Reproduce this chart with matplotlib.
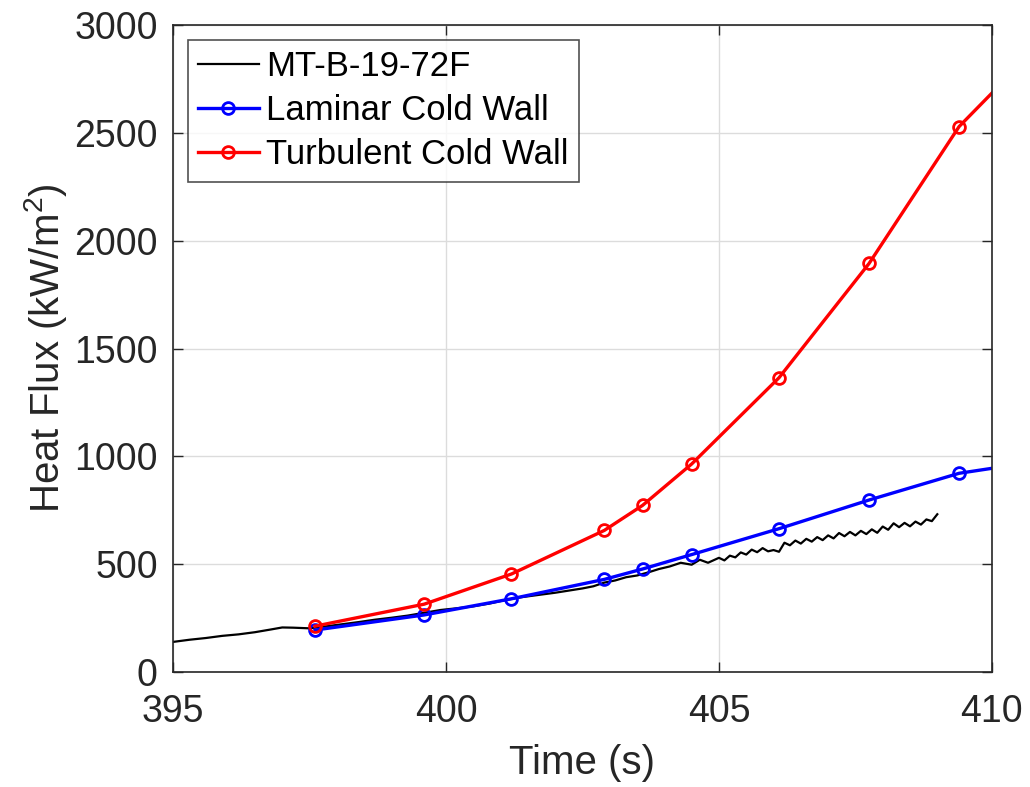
import numpy as np
import matplotlib
matplotlib.use("Agg")
import matplotlib.pyplot as plt

plt.rcParams['font.family'] = ['Liberation Sans', 'DejaVu Sans']
plt.rcParams['mathtext.default'] = 'regular'

# measured heat flux, MT-B-19-72F
t_meas = [395.0, 395.3, 395.6, 395.9, 396.2, 396.5, 396.8, 397.0, 397.2, 397.5,
          397.8, 398.1, 398.4, 398.7, 399.0, 399.3, 399.6, 399.9, 400.2, 400.5,
          400.8, 401.1, 401.4, 401.7, 402.0, 402.3, 402.5, 402.7, 402.9, 403.1,
          403.3, 403.5, 403.7, 403.9, 404.1, 404.3, 404.5, 404.65, 404.8, 405.0,
          405.1, 405.2, 405.3, 405.4, 405.5, 405.6, 405.7, 405.8, 405.9, 406.0,
          406.1, 406.2, 406.3, 406.4, 406.5, 406.6, 406.7, 406.8, 406.9, 407.0,
          407.1, 407.2, 407.3, 407.4, 407.5, 407.6, 407.7, 407.8, 407.9, 408.0,
          408.1, 408.2, 408.3, 408.4, 408.5, 408.6, 408.7, 408.8, 408.9, 409.0]
q_meas = [140, 150, 158, 168, 175, 185, 198, 207, 206, 203,
          212, 222, 232, 243, 252, 262, 275, 288, 296, 305,
          318, 335, 348, 358, 368, 380, 388, 398, 415, 425,
          440, 448, 462, 478, 490, 507, 498, 521, 507, 530,
          518, 540, 532, 555, 545, 568, 556, 575, 560, 566,
          558, 600, 588, 610, 596, 618, 605, 626, 612, 634,
          620, 645, 630, 650, 634, 655, 640, 662, 646, 675,
          660, 690, 672, 692, 676, 698, 684, 708, 700, 732]

# model predictions
t_model = [397.6, 399.6, 401.2, 402.9, 403.6, 404.5, 406.1, 407.75, 409.4, 410.0]
q_laminar = [195, 265, 340, 430, 478, 545, 665, 798, 922, 945]
q_turbulent = [213, 315, 455, 657, 773, 965, 1365, 1895, 2530, 2685]

fig = plt.figure(figsize=(10.3, 7.87), dpi=100)
ax = fig.add_axes([0.168, 0.146, 0.795, 0.822])

marks = list(range(len(t_model) - 1))
ax.plot(t_meas, q_meas, color='black', lw=1.6, label='MT-B-19-72F')
ax.plot(t_model, q_laminar, color='blue', lw=2.4, marker='o', ms=8.5, mfc='none',
        mew=2.0, markevery=marks, label='Laminar Cold Wall')
ax.plot(t_model, q_turbulent, color='red', lw=2.4, marker='o', ms=8.5, mfc='none',
        mew=2.0, markevery=marks, label='Turbulent Cold Wall')

ax.set_xlim(395, 410)
ax.set_ylim(0, 3000)
ax.set_xticks([395, 400, 405, 410])
ax.set_yticks(np.arange(0, 3001, 500))
ax.grid(True, color='#dcdcdc', lw=1.0)
ax.set_axisbelow(True)

ax.tick_params(direction='in', top=True, right=True, length=7, width=1,
               labelsize=27, colors='#262626')
ax.tick_params(axis='x', pad=16)
ax.tick_params(axis='y', pad=11)
for s in ax.spines.values():
    s.set_color('#262626')
    s.set_linewidth(1.2)

ax.set_xlabel('Time (s)', fontsize=29, color='#262626', labelpad=10)
ax.set_ylabel('Heat Flux (kW/m$^{2}$)', fontsize=29, color='#262626', labelpad=4)

leg = ax.legend(loc='upper left', fontsize=25, frameon=True, fancybox=False,
                handlelength=1.75, handletextpad=0.2, borderpad=0.3,
                labelspacing=0.32, borderaxespad=0.42)
leg.get_frame().set_edgecolor('#262626')
leg.get_frame().set_linewidth(1.2)

fig.savefig('out.png', dpi=100)
